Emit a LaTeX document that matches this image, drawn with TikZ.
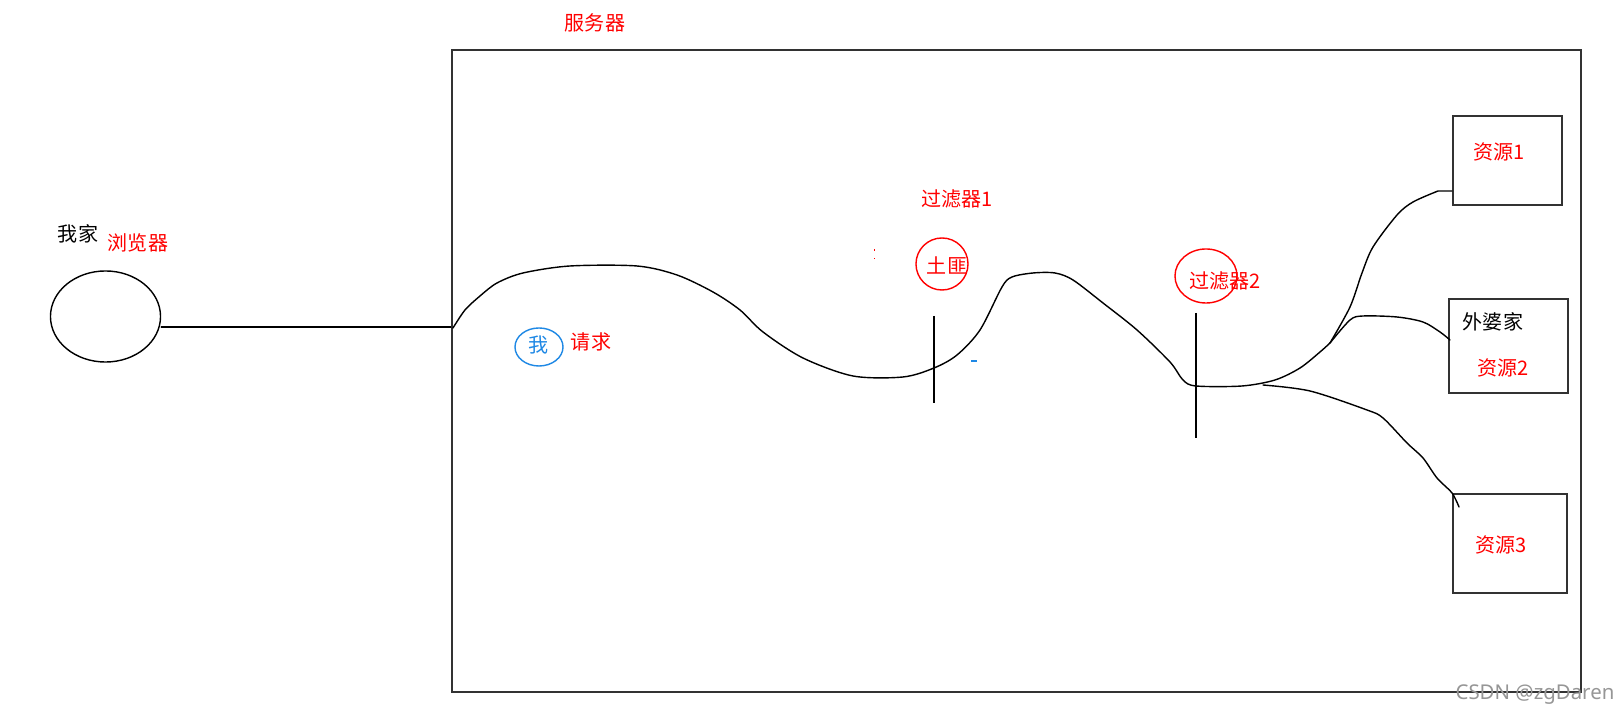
\documentclass[tikz,border=0pt]{standalone}
\usepackage{fontspec}
\setmainfont{Noto Sans CJK SC}
\newfontfamily\wmfont{Noto Sans}
\usetikzlibrary{shapes.geometric}
\definecolor{redtxt}{RGB}{255,0,0}
\definecolor{bluetxt}{RGB}{30,136,229}
\definecolor{boxgray}{RGB}{50,50,50}
\definecolor{wmgray}{RGB}{150,150,150}
\tikzset{
  lbl/.style={inner sep=0pt, font=\fontsize{5.7}{6.5}\selectfont},
  redlbl/.style={lbl, text=redtxt},
  blacklbl/.style={lbl, text=black},
  bluelbl/.style={lbl, text=bluetxt},
  framebox/.style={draw=boxgray, line width=0.55pt, rectangle, inner sep=0pt},
  wire/.style={draw=black, line width=0.4pt, line join=round, line cap=round},
  oval/.style={ellipse, inner sep=0pt},
  filterbar/.style={draw=black, line width=0.45pt},
}
\begin{document}
\begin{tikzpicture}[x=0.01cm,y=-0.01cm]
\useasboundingbox (0,0) rectangle (1623,716);
\fill[white] (0,0) rectangle (1623,716);

% server frame
\node[framebox, minimum width=11.29cm, minimum height=6.42cm] (server) at (1016.5,371) {};
\node[redlbl] (servertxt) at (595,23) {服务器};

% browser
\node[oval, draw=black, line width=0.4pt, minimum width=1.10cm, minimum height=0.91cm] (browser) at (105.5,316.5) {};
\node[blacklbl] (home) at (78,234) {我家};
\node[redlbl] (browsertxt) at (138,243) {浏览器};
\coordinate (link) at (0,327);
\draw[wire] (browser.east |- link) -- (server.west |- link);

% resources
\node[framebox, minimum width=1.09cm, minimum height=0.89cm] (res1) at (1507.5,160.5) {};
\node[framebox, minimum width=1.19cm, minimum height=0.94cm] (res2) at (1508.5,346) {};
\node[framebox, minimum width=1.14cm, minimum height=0.99cm] (res3) at (1510,543.5) {};
\node[redlbl] (r1txt) at (1499,152) {资源1};
\node[blacklbl] (grandma) at (1493,322) {外婆家};
\node[redlbl] (r2txt) at (1503,368) {资源2};
\node[redlbl] (r3txt) at (1501,545) {资源3};

% me / request
\node[oval, draw=bluetxt, line width=0.4pt, minimum width=0.48cm, minimum height=0.38cm] (mecirc) at (539,347) {};
\node[bluelbl] (me) at (539,345) {我};
\node[redlbl] (req) at (591,342) {请求};

% filter 1
\node[redlbl] (f1txt) at (957,199) {过滤器1};
\node[circle, draw=redtxt, line width=0.4pt, minimum size=0.52cm, inner sep=0pt] (banditc) at (942,264) {};
\node[redlbl] (bandit) at (947,265) {土匪};
\coordinate (f1top) at (934,316);
\coordinate (f1bot) at (934,403);
\draw[filterbar] (f1top) -- (f1bot);

% filter 2
\node[oval, draw=redtxt, line width=0.4pt, minimum width=0.62cm, minimum height=0.54cm] (f2c) at (1206,276) {};
\node[redlbl] (f2txt) at (1225,281) {过滤器2};
\coordinate (f2top) at (1196,313);
\coordinate (f2bot) at (1196,438);
\draw[filterbar] (f2top) -- (f2bot);

% request path
\draw[wire] plot[smooth, tension=0.5] coordinates {
  (453,328) (465,310) (480,296) (497,283) (523,273) (570,266) (637,266)
  (677,275) (713,292) (740,310) (763,332) (803,358) (853,376) (903,377)
  (934,368) (957,355) (980,330) (1002,287) (1012,277) (1033,273) (1055,273)
  (1073,280) (1103,303) (1137,330) (1170,362) (1183,380) (1196,386)
  (1242,386) (1275,380) (1300,368) (1320,352) (1330,343)};
% branch to resource 1
\draw[wire] plot[smooth, tension=0.5] coordinates {
  (1330,343) (1350,307) (1362,273) (1373,247) (1397,215) (1413,202) (1438,191)}
  -- (res1.west |- 0,191);
% branch to resource 2
\draw[wire] plot[smooth, tension=0.5] coordinates {
  (1330,343) (1350,320) (1363,316) (1397,317) (1423,322) (1440,332) (1450,340)};
% branch to resource 3
\draw[wire] plot[smooth, tension=0.5] coordinates {
  (1263,385) (1310,391) (1367,410) (1383,418) (1407,443) (1423,458)
  (1437,478) (1452,493) (1459,507)};

% small stray marks
\fill[redtxt] (873.5,249.5) rectangle (875,251);
\fill[redtxt] (873.5,258) rectangle (875,259.5);
\fill[bluetxt] (971,360.5) rectangle (977,361.8);

% watermark
\node[inner sep=0pt, font=\wmfont\fontsize{5.8}{7}\selectfont, text=wmgray] (wm) at (1535,695) {CSDN @zgDaren};
\end{tikzpicture}
\end{document}
